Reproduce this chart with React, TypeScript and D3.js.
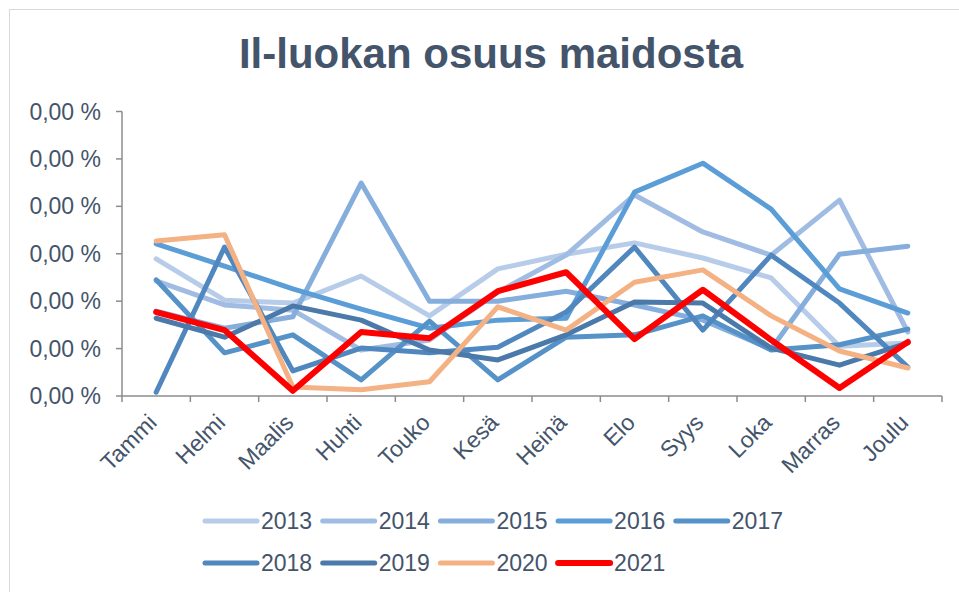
import React from "react";
import * as d3 from "d3";

const months = ["Tammi", "Helmi", "Maalis", "Huhti", "Touko", "Kesä", "Heinä", "Elo", "Syys", "Loka", "Marras", "Joulu"];
const yTickValues = [0, 1, 2, 3, 4, 5, 6];
const yTickLabels = ["0,00 %", "0,00 %", "0,00 %", "0,00 %", "0,00 %", "0,00 %", "0,00 %"];

const years = ["2013", "2014", "2015", "2016", "2017", "2018", "2019", "2020", "2021"];
const v2013 = [2.89, 2.02, 1.96, 2.53, 1.69, 2.68, 2.99, 3.23, 2.91, 2.49, 1.05, 1.12];
const v2014 = [2.43, 1.92, 1.81, 0.97, 1.18, 2.19, 2.97, 4.24, 3.46, 2.97, 4.13, 1.35];
const v2015 = [1.79, 1.43, 1.67, 4.49, 2.0, 2.0, 2.21, 1.92, 1.6, 0.99, 2.99, 3.16];
const v2016 = [3.21, 2.74, 2.26, 1.83, 1.43, 1.6, 1.64, 4.3, 4.91, 3.94, 2.26, 1.75];
const v2017 = [2.45, 0.91, 1.29, 0.34, 1.58, 0.34, 1.24, 1.29, 1.69, 0.97, 1.08, 1.41];
const v2018 = [0.08, 3.14, 0.53, 1.01, 0.91, 1.03, 1.77, 3.14, 1.39, 2.97, 1.96, 0.61];
const v2019 = [1.64, 1.24, 1.9, 1.6, 0.97, 0.76, 1.29, 1.98, 1.96, 1.01, 0.65, 1.12];
const v2020 = [3.27, 3.4, 0.19, 0.13, 0.3, 1.88, 1.39, 2.4, 2.66, 1.69, 0.95, 0.59];
const v2021 = [1.77, 1.39, 0.11, 1.35, 1.22, 2.21, 2.61, 1.2, 2.24, 1.18, 0.17, 1.14];
const seriesValues = [v2013, v2014, v2015, v2016, v2017, v2018, v2019, v2020, v2021];
const colors = ["#B7CCE9", "#A1BCE2", "#86AEDC", "#5B9DD7", "#5592C8", "#4F87BE", "#4A79AA", "#F4B183", "#FF0000"];

const W = 959;
const H = 592;
const left = 122;
const right = 942;
const top = 111.5;
const bottom = 396;
const textColor = "#44546A";
const font = "'Liberation Sans', Arial, sans-serif";

export default function App() {
  const x = d3.scalePoint<string>().domain(months).range([left, right]).padding(0.5);
  const xb = d3.scaleBand<string>().domain(months).range([left, right]);
  const y = d3.scaleLinear().domain([0, 6]).range([bottom, top]);
  const line = d3
    .line<number>()
    .x((_, i) => x(months[i]) as number)
    .y((d) => y(d));

  const boundaries = months.map((m) => xb(m) as number).concat([right]);

  const legendRows = [years.slice(0, 5), years.slice(5)];
  const itemStep = 117.7;

  return (
    <svg
      width={W}
      height={H}
      style={{ position: "absolute", left: 0, top: 0, background: "#fff" }}
      fontFamily={font}
    >
      <rect x={0} y={0} width={W} height={H} fill="#fff" />
      <rect x={9.5} y={9.5} width={W + 20} height={H + 20} fill="none" stroke="#D9D9D9" strokeWidth={1} />
      <text x={491} y={68} textAnchor="middle" fontSize={42} fontWeight="bold" fill={textColor}>
        Il-luokan osuus maidosta
      </text>

      {/* y axis */}
      <line x1={left} x2={left} y1={top} y2={bottom} stroke="#8C8C8C" strokeWidth={1.5} />
      {yTickValues.map((t, i) => (
        <g key={"yt" + i}>
          <line x1={left - 6} x2={left} y1={y(t)} y2={y(t)} stroke="#8C8C8C" strokeWidth={1.5} />
          <text x={101} y={y(t) + 8} textAnchor="end" fontSize={23} fill={textColor}>
            {yTickLabels[i]}
          </text>
        </g>
      ))}

      {/* x axis */}
      <line x1={left} x2={right} y1={bottom} y2={bottom} stroke="#8C8C8C" strokeWidth={1.5} />
      {boundaries.map((b, i) => (
        <line key={"xt" + i} x1={b} x2={b} y1={bottom} y2={bottom + 6} stroke="#8C8C8C" strokeWidth={1.5} />
      ))}
      {months.map((m) => {
        const cx = x(m) as number;
        return (
          <text
            key={"xl" + m}
            transform={`translate(${cx + 2},${bottom + 28}) rotate(-45)`}
            textAnchor="end"
            fontSize={23}
            fill={textColor}
          >
            {m}
          </text>
        );
      })}

      {/* series */}
      {seriesValues.map((vals, i) => (
        <path
          key={"s" + years[i]}
          d={line(vals) as string}
          fill="none"
          stroke={colors[i]}
          strokeWidth={years[i] === "2021" ? 6 : 5}
          strokeLinejoin="round"
          strokeLinecap="round"
        />
      ))}

      {/* legend */}
      {legendRows.map((row, r) =>
        row.map((yr, j) => {
          const idx = years.indexOf(yr);
          const lx = 205 + j * itemStep;
          const ly = r === 0 ? 521 : 563;
          return (
            <g key={"lg" + yr}>
              <line
                x1={lx}
                x2={lx + 52}
                y1={ly}
                y2={ly}
                stroke={colors[idx]}
                strokeWidth={yr === "2021" ? 6 : 5}
                strokeLinecap="round"
              />
              <text x={lx + 56} y={ly + 8} fontSize={23} fill={textColor}>
                {yr}
              </text>
            </g>
          );
        })
      )}
    </svg>
  );
}
